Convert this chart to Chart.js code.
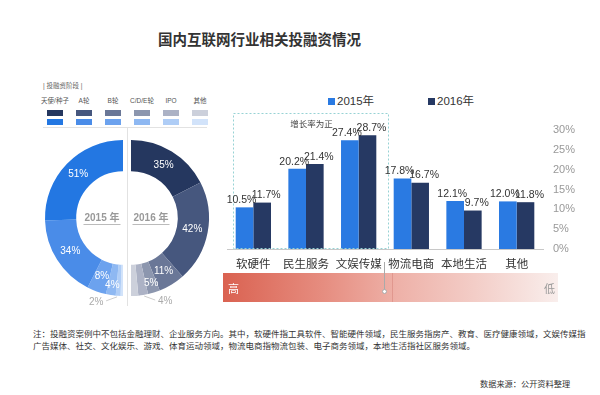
<!DOCTYPE html>
<html lang="zh-CN">
<head>
<meta charset="utf-8">
<script src="https://cdn.jsdelivr.net/npm/chart.js@4.4.1/dist/chart.umd.min.js"></script>
<style>
  body { margin: 0; background: #fff; }
  #page { position: relative; width: 600px; height: 395px; overflow: hidden; background: #fff;
    font-family: 'Liberation Sans', 'Noto Sans CJK SC', sans-serif; color: #333; }
  .abs { position: absolute; white-space: nowrap; }
  canvas { position: absolute; }
  #title { left: 158px; top: 28px; font-size: 14.5px; font-weight: bold; color: #333; }
  #stageTitle { left: 43px; top: 80px; font-size: 6.5px; color: #666; }
  .stage { position: absolute; width: 30px; text-align: center; }
  .stage span { display: block; font-size: 6.5px; color: #555; line-height: 8px; }
  .stage i { display: block; width: 16px; height: 6px; margin: 0 auto; }
  #hline { left: 43px; top: 127px; width: 164px; height: 1px; background: #e2e2e2; }
  #vline { left: 127px; top: 128px; width: 1px; height: 178px; background: #e2e2e2; }
  .leg { top: 92px; font-size: 11.5px; color: #333; }
  .leg i { display: inline-block; width: 7px; height: 7px; margin-right: 2px; vertical-align: 0; }
  #grad { left: 223px; top: 273px; width: 335px; height: 29px;
    background: linear-gradient(to right, #da6251 0%, #e68d80 30%, #eeb1a8 52%, #f3cdc7 75%, #f9eeec 100%); }
  #gradSplit { left: 392px; top: 273px; width: 1px; height: 29px; background: rgba(200,110,100,0.35); }
  #high { left: 228px; top: 280px; font-size: 11px; color: #fff; }
  #low { left: 544px; top: 280px; font-size: 11px; color: #999; }
  #marker { left: 384px; top: 262px; width: 1px; height: 28px; background: #aaa; }
  #markerDot { left: 382px; top: 289px; width: 3px; height: 3px; border: 1px solid #aaa; border-radius: 50%; background: #fff; }
  .note { left: 33px; font-size: 8.5px; color: #333; }
  #source { left: 480px; top: 377px; font-size: 8.2px; color: #333; }
</style>
</head>
<body>
<div id="page">
  <div id="title" class="abs">国内互联网行业相关投融资情况</div>

  <div id="stageTitle" class="abs">| 投融资阶段 |</div>
  <div id="stageLegend"></div>
  <div id="hline" class="abs"></div>
  <div id="vline" class="abs"></div>

  <canvas id="donut2015" width="180" height="190" style="left:33px;top:128px;width:180px;height:190px"></canvas>
  <canvas id="donut2016" width="180" height="190" style="left:41px;top:128px;width:180px;height:190px"></canvas>

  <div class="abs leg" style="left:328px"><i style="background:#2a7ae2"></i>2015年</div>
  <div class="abs leg" style="left:428px"><i style="background:#263963"></i>2016年</div>

  <div id="grad" class="abs"></div>
  <div id="gradSplit" class="abs"></div>
  <div id="high" class="abs">高</div>
  <div id="low" class="abs">低</div>
  <canvas id="bars" width="370" height="165" style="left:220px;top:110px;width:370px;height:165px"></canvas>
  <div id="marker" class="abs"></div>
  <div id="markerDot" class="abs"></div>

  <div class="abs note" style="top:327px">注：投融资案例中不包括金融理财、企业服务方向。其中，软硬件指工具软件、智能硬件领域，民生服务指房产、教育、医疗健康领域，文娱传媒指</div>
  <div class="abs note" style="top:339px">广告媒体、社交、文化娱乐、游戏、体育运动领域，物流电商指物流包装、电子商务领域，本地生活指社区服务领域。</div>
  <div id="source" class="abs">数据来源：公开资料整理</div>
</div>

<script>
// investment stage split (share of deals, %)
const stages = ['天使/种子', 'A轮', 'B轮', 'C/D/E轮', 'IPO', '其他'];
const share2015 = [51, 34, 8, 4, 2, 1];
const share2016 = [35, 42, 11, 5, 4, 3];
const colors2015 = ['#2377e2', '#4a8ce8', '#6ca2ee', '#8eb8f2', '#afcdf6', '#d2e3fa'];
const colors2016 = ['#25375f', '#46577e', '#6a7797', '#8c96ae', '#acb2c5', '#ccd0db'];

// sector share by year (%)
const sectors = ['软硬件', '民生服务', '文娱传媒', '物流电商', '本地生活', '其他'];
const sector2015 = [10.5, 20.2, 27.4, 17.8, 12.1, 12.0];
const sector2016 = [11.7, 21.4, 28.7, 16.7, 9.7, 11.8];
const yMin = 0, yMax = 30, yStep = 5;

const FONT = "'Liberation Sans', 'Noto Sans CJK SC', sans-serif";

// stage legend (labels + two rows of swatches)
const legendEl = document.getElementById('stageLegend');
stages.forEach((s, i) => {
  const d = document.createElement('div');
  d.className = 'stage';
  d.style.left = (40 + i * 29) + 'px';
  d.style.top = '97px';
  d.innerHTML = `<span>${s}</span><i style="background:${colors2016[i]};margin-top:5px"></i><i style="background:${colors2015[i]};margin-top:3px"></i>`;
  legendEl.appendChild(d);
});

// percentage labels on the half rings
const ringLabels = {
  id: 'ringLabels',
  afterDatasetsDraw(chart, args, opts) {
    const ctx = chart.ctx;
    const ds = chart.data.datasets[0];
    const meta = chart.getDatasetMeta(0);
    ctx.save();
    ctx.textAlign = 'center';
    ctx.textBaseline = 'middle';
    meta.data.forEach((arc, j) => {
      const stage = ds.stageIdx[j];
      if (stage < 0 || stage === 5) return;
      const p = arc.getProps(['x', 'y', 'startAngle', 'endAngle', 'innerRadius', 'outerRadius'], true);
      const mid = (p.startAngle + p.endAngle) / 2;
      const text = ds.data[j] + '%';
      if (stage === 4) {
        // small slice: label below the ring with a short leader
        const dir = Math.cos(mid) >= 0 ? 1 : -1;
        const px = p.x + Math.cos(mid) * p.outerRadius;
        const py = p.y + Math.sin(mid) * p.outerRadius;
        ctx.strokeStyle = '#ccc';
        ctx.lineWidth = 1;
        ctx.beginPath();
        ctx.moveTo(px + dir * 1, py + 1);
        ctx.lineTo(px + dir * 12, py + 5);
        ctx.stroke();
        ctx.font = '10px ' + FONT;
        ctx.fillStyle = '#aaa';
        ctx.fillText(text, px + dir * 22, py + 6);
      } else {
        const r = (p.innerRadius + p.outerRadius) / 2 + (stage === 3 ? 6 : 0);
        ctx.font = '10px ' + FONT;
        ctx.fillStyle = '#fff';
        ctx.fillText(text, p.x + Math.cos(mid) * r, p.y + Math.sin(mid) * r);
      }
    });
    // year in the hole
    const c = meta.data[0];
    ctx.font = 'bold 10px ' + FONT;
    ctx.fillStyle = '#999';
    const tx = c.x + opts.dx;
    ctx.fillText(opts.text, tx, c.y);
    const w = ctx.measureText(opts.text).width;
    ctx.strokeStyle = '#bbb';
    ctx.lineWidth = 1;
    ctx.beginPath();
    ctx.moveTo(tx - w / 2 - 1, c.y + 6.5);
    ctx.lineTo(tx + w / 2 + 1, c.y + 6.5);
    ctx.stroke();
    ctx.restore();
  }
};

function halfRing(id, data, colors, stageIdx, year, dx) {
  return new Chart(document.getElementById(id), {
    type: 'doughnut',
    data: {
      datasets: [{
        data: data,
        backgroundColor: colors,
        borderWidth: 0,
        stageIdx: stageIdx
      }]
    },
    options: {
      responsive: false,
      animation: false,
      cutout: '60%',
      layout: { padding: { left: 12, right: 12, top: 12, bottom: 22 } },
      events: [],
      plugins: {
        legend: { display: false },
        tooltip: { enabled: false },
        ringLabels: { text: year, dx: dx }
      }
    },
    plugins: [ringLabels]
  });
}

const sum15 = share2015.reduce((a, b) => a + b, 0);
const sum16 = share2016.reduce((a, b) => a + b, 0);
// 2015 runs anticlockwise from the top on the left half: draw it clockwise from the bottom
halfRing('donut2015',
  [sum15].concat(share2015.slice().reverse()),
  ['rgba(0,0,0,0)'].concat(colors2015.slice().reverse()),
  [-1, 5, 4, 3, 2, 1, 0], '2015 年', -21);
halfRing('donut2016',
  share2016.concat([sum16]),
  colors2016.concat(['rgba(0,0,0,0)']),
  [0, 1, 2, 3, 4, 5, -1], '2016 年', 20);

// value labels above bars + dashed "positive growth" box
const barExtras = {
  id: 'barExtras',
  afterDatasetsDraw(chart) {
    const ctx = chart.ctx;
    const x = chart.scales.x;
    const area = chart.chartArea;
    ctx.save();
    const catW = x.getPixelForValue(1) - x.getPixelForValue(0);
    const bx0 = x.getPixelForValue(0) - catW / 2 + 6;
    const bx1 = x.getPixelForValue(2) + catW / 2 + 3;
    const by0 = area.top - 17;
    const by1 = area.bottom;
    ctx.strokeStyle = '#97d2d4';
    ctx.lineWidth = 1;
    ctx.setLineDash([2, 2]);
    ctx.strokeRect(Math.round(bx0) + 0.5, Math.round(by0) + 0.5, Math.round(bx1 - bx0), Math.round(by1 - by0) - 1);
    ctx.setLineDash([]);
    ctx.font = '8.5px ' + FONT;
    ctx.fillStyle = '#444';
    ctx.textAlign = 'center';
    ctx.textBaseline = 'middle';
    ctx.fillText('增长率为正', (bx0 + bx1) / 2 + 1, by0 + 12);

    ctx.font = '10.5px ' + FONT;
    ctx.fillStyle = '#333';
    ctx.textBaseline = 'bottom';
    chart.data.datasets.forEach((ds, i) => {
      chart.getDatasetMeta(i).data.forEach((bar, j) => {
        ctx.fillText(ds.data[j].toFixed(1) + '%', bar.x + (i === 0 ? -3 : 4), bar.y - 2);
      });
    });
    ctx.restore();
  }
};

new Chart(document.getElementById('bars'), {
  type: 'bar',
  data: {
    labels: sectors,
    datasets: [
      { label: '2015年', data: sector2015, backgroundColor: '#2a7ae2' },
      { label: '2016年', data: sector2016, backgroundColor: '#263963' }
    ]
  },
  options: {
    responsive: false,
    animation: false,
    events: [],
    barPercentage: 1,
    categoryPercentage: 0.67,
    layout: { padding: { left: 7, top: 20, right: 0, bottom: 0 } },
    plugins: {
      legend: { display: false },
      tooltip: { enabled: false }
    },
    scales: {
      x: {
        grid: { display: false, drawTicks: false },
        border: { display: true, color: '#c8c8c8' },
        ticks: { color: '#333', font: { size: 11.5, family: FONT }, padding: 9, maxRotation: 0 },
        afterFit(scale) { scale.height = 26; }
      },
      y: {
        position: 'right',
        min: yMin,
        max: yMax,
        grid: { display: false, drawTicks: false },
        border: { display: false },
        ticks: { stepSize: yStep, color: '#999', font: { size: 11, family: FONT }, padding: 10,
          callback: v => v + '%' },
        afterFit(scale) { scale.width = 47; }
      }
    }
  },
  plugins: [barExtras]
});
</script>
</body>
</html>
